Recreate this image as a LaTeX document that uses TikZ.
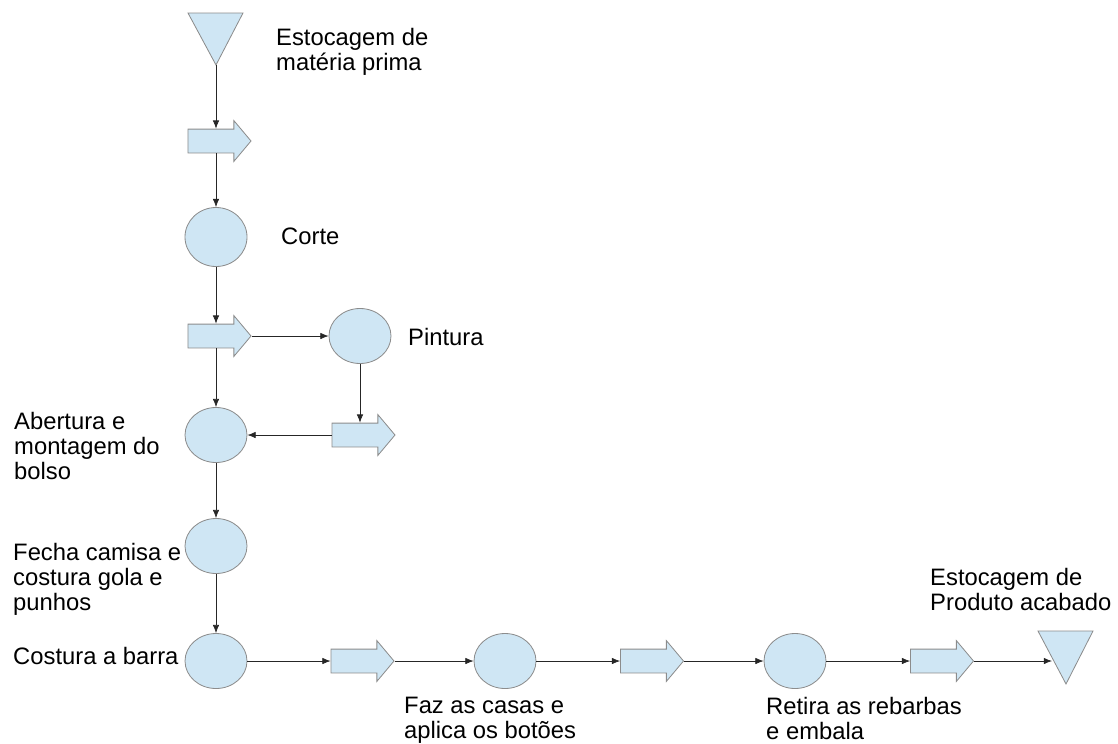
\documentclass[tikz,border=0pt]{standalone}
\usepackage{fontspec}
\setmainfont{Liberation Sans}
\usetikzlibrary{shapes.geometric,shapes.arrows,arrows.meta}
\definecolor{procfill}{RGB}{207,230,244}
\definecolor{procline}{RGB}{140,140,140}
\tikzset{
  oper/.style={ellipse, draw=procline, fill=procfill, line width=0.7pt,
    minimum width=1.86cm, minimum height=1.65cm, inner sep=0pt},
  transp/.style={single arrow, draw=procline, fill=procfill, line width=0.7pt,
    minimum height=1.89cm, inner xsep=0pt, inner ysep=0.345cm,
    single arrow head extend=0.255cm, single arrow tip angle=100},
  etiq/.style={anchor=north west, inner sep=0pt, align=left,
    font=\fontsize{20.3pt}{21.3pt}\selectfont},
  fluxo/.style={-{Latex[length=7pt,width=5.5pt]}, line width=0.6pt, black!85}
}
\begin{document}
\begin{tikzpicture}[x=0.03cm, y=-0.03cm]
			%%%%% START %%%%%
			\useasboundingbox (0,0) rectangle (1118,743);
			
			% estocagem de materia prima
			\draw[procline, fill=procfill, line width=0.7pt] (188,13) -- (243,13) -- (216,65) -- cycle;
			\coordinate (estA) at (216,65);
			\node[etiq] (tEstA) at (276,28) {Estocagem de\\matéria prima};
			
			% coluna da esquerda
			\node[transp] (a1) at (214.5,141) {};
			\node[oper, minimum height=1.77cm] (c1) at (216,237) {};
			\node[etiq] (tCorte) at (281,228) {Corte};
			\node[transp] (a2) at (214.5,336) {};
			\node[oper] (c2) at (360,336) {};
			\node[etiq] (tPint) at (408,328) {Pintura};
			\node[transp] (a3) at (358.5,435) {};
			\node[oper] (c3) at (216,435) {};
			\node[etiq] (tAbert) at (14,412) {Abertura e\\montagem do\\bolso};
			\node[oper] (c4) at (216,546) {};
			\node[etiq] (tFecha) at (13,543) {Fecha camisa e\\costura gola e\\punhos};
			\node[oper] (c5) at (216,661) {};
			\node[etiq] (tBarra) at (13,647) {Costura a barra};
			
			% linha de baixo
			\node[transp] (a4) at (357.5,661) {};
			\node[oper] (c6) at (505,661) {};
			\node[etiq] (tCasas) at (404,697) {Faz as casas e\\aplica os botões};
			\node[transp] (a5) at (647,661) {};
			\node[oper] (c7) at (795,661) {};
			\node[etiq] (tRebar) at (766,697) {Retira as rebarbas\\e embala};
			\node[transp] (a6) at (937,661) {};
			
			% estocagem de produto acabado
			\draw[procline, fill=procfill, line width=0.7pt] (1038,631) -- (1093,631) -- (1066,684) -- cycle;
			\coordinate (estB) at (1052,661);
			\node[etiq] (tEstB) at (930,568) {Estocagem de\\Produto acabado};
			
			% ligacoes
			\draw[fluxo] (estA) -- (estA |- a1.north);
			\draw[fluxo] (a1.south -| c1.north) -- (c1.north);
			\draw[fluxo] (c1.south) -- (c1.south |- a2.north);
			\draw[fluxo] (a2.tip) -- (c2.west);
			\draw[fluxo] (c2.south) -- (c2.south |- a3.north);
			\draw[fluxo] (a3.tail) -- (c3.east);
			\draw[fluxo] (a2.south -| c3.north) -- (c3.north);
			\draw[fluxo] (c3.south) -- (c4.north);
			\draw[fluxo] (c4.south) -- (c5.north);
			\draw[fluxo] (c5.east) -- (a4.tail);
			\draw[fluxo] (a4.tip) -- (c6.west);
			\draw[fluxo] (c6.east) -- (a5.tail);
			\draw[fluxo] (a5.tip) -- (c7.west);
			\draw[fluxo] (c7.east) -- (a6.tail);
			\draw[fluxo] (a6.tip) -- (estB);
			%%%%% END %%%%%
\end{tikzpicture}
\end{document}
